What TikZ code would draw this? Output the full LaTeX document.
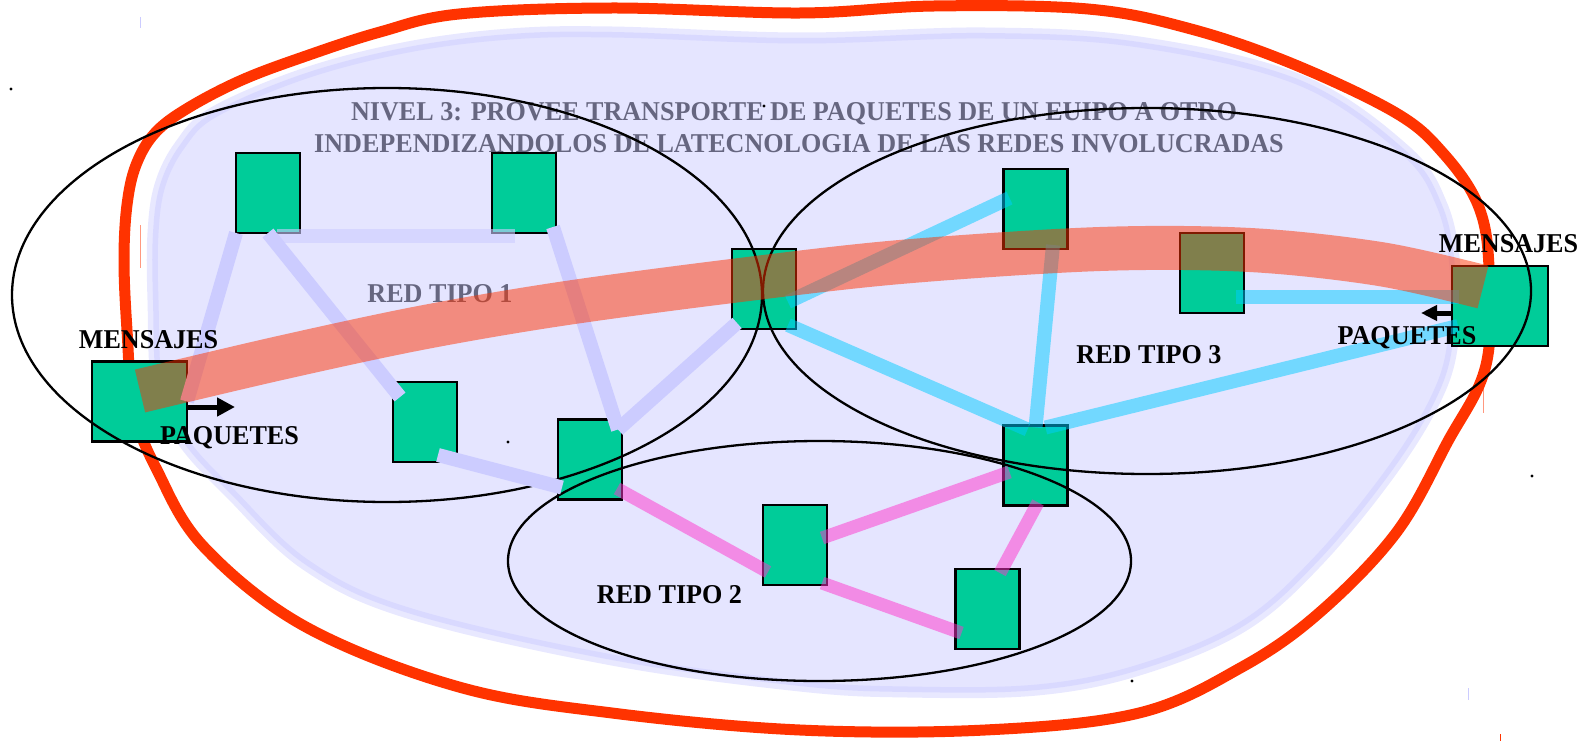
\documentclass[tikz,border=0pt]{standalone}
\usepackage{fontspec}
\setmainfont{Liberation Serif}
\usepackage{graphicx}
\usetikzlibrary{arrows.meta}
\definecolor{lav}{HTML}{CCCCFF}
\definecolor{redline}{HTML}{FF3300}
\definecolor{grn}{HTML}{00CC99}
\definecolor{cyn}{HTML}{00CCFF}
\definecolor{pnk}{HTML}{FF33CC}
\newcommand\sqz[1]{\scalebox{0.96}[1]{#1}}
\begin{document}
\begin{tikzpicture}[x=1bp,y=-1bp,
  box/.style={draw=black, line width=2.5bp, fill=grn, inner sep=0pt, outer sep=0pt, minimum width=64bp, minimum height=80bp},
  bigbox/.style={box, minimum width=95bp, minimum height=80bp},
  lbl/.style={font=\fontsize{27.2bp}{30bp}\selectfont\bfseries, inner sep=0pt, anchor=base},
  net/.style={draw=black, line width=2.3bp},
  lavlink/.style={draw=lav, line width=14bp},
  lavlinkb/.style={draw=lav, line width=14bp, draw opacity=0.6},
  cyanlink/.style={draw=cyn, line width=14bp, draw opacity=0.5},
  pinklink/.style={draw=pnk, line width=13bp, draw opacity=0.5},
  tipto/.style={line width=5bp, -{Triangle[length=18bp,width=18bp]}},
  dotm/.style={fill=black}
]
\fill[white] (0,0) rectangle (1585,741);
\useasboundingbox (0,0) rectangle (1585,741);

% texts under the translucent region
\node[lbl] (t1) at (794,120) {\sqz{NIVEL 3: PROVEE TRANSPORTE DE PAQUETES DE UN EUIPO A OTRO}};
\node[lbl] (t2) at (799,152) {\sqz{INDEPENDIZANDOLOS DE LATECNOLOGIA DE LAS REDES INVOLUCRADAS}};
\node[lbl] (r1) at (440,302) {\sqz{RED TIPO 1}};

% translucent region
\filldraw[fill=lav, fill opacity=0.5, draw=lav, draw opacity=0.45, line width=11bp]
  plot[smooth cycle, tension=0.6] coordinates {
  (153,300) (153,233) (160,185) (180,145) (214,112) (306,73) (408,47) (510,34) (612,32)
  (800,38) (985,33) (1139,42) (1300,80) (1405,150) (1442,205) (1455,267) (1454,333)
  (1440,390) (1396,465) (1319,560) (1242,627) (1139,670) (1037,690) (908,692) (800,686)
  (612,660) (408,613) (306,565) (230,493) (184,443) (158,393)};

% outer red curve
\draw[redline, line width=11bp]
  plot[smooth cycle, tension=0.6] coordinates {
  (127,330) (124,260) (127,205) (136,165) (155,133) (188,108) (242,80) (306,56) (380,32) (459,14)
  (612,8) (800,13) (934,6) (1088,9) (1191,29) (1293,64) (1396,113) (1443,153) (1478,205) (1489,267)
  (1486,365) (1447,443) (1396,533) (1319,613) (1242,667) (1139,713) (985,730) (800,730)
  (612,713) (459,687) (306,627) (204,547) (157,470) (134,410)};

% faint marks
\draw[lav, line width=1bp] (140,17) -- (140,28);
\draw[redline, line width=1bp, opacity=0.5] (140,225) -- (140,268);
\draw[redline, line width=1bp, opacity=0.5] (1483,380) -- (1483,413);
\draw[lav, line width=1bp] (1468,688) -- (1468,700);
\draw[redline, line width=1bp] (1500,734) -- (1500,741);

% boxes
\node[box] (B1) at (268,193) {};
\node[box] (B2) at (524,193) {};
\node[box] (B3) at (764,289) {};
\node[box] (B4) at (425,422) {};
\node[box] (B5) at (590,459.5) {};
\node[bigbox] (BL) at (139.5,401.5) {};
\node[box] (B6) at (1035.5,209) {};
\node[box] (B7) at (1212,273) {};
\node[bigbox, minimum width=96bp] (BR) at (1500,306) {};
\node[box] (B8) at (1035.5,465.5) {};
\node[box] (B9) at (795,545) {};
\node[box] (B10) at (987.5,609) {};

% networks
\draw[net] (387,295) ellipse [x radius=375, y radius=207];
\draw[net] (1147,291) ellipse [x radius=384, y radius=183];
\draw[net] (819.5,561) ellipse [x radius=311.5, y radius=120];

% links red tipo 1
\draw[lavlink] (B1.south west) -- (BL.east);
\draw[lavlink] (B1.south) -- ([shift={(7,15)}]B4.north west);
\draw[lavlinkb] ([shift={(9,3)}]B1.south) -- ([shift={(-9,3)}]B2.south);
\draw[lavlink] ([shift={(-3,-6)}]B2.south east) -- ([shift={(-4,10)}]B5.north east);
\draw[lavlink] ([shift={(5,-6)}]B3.south west) -- ([shift={(-4,10)}]B5.north east);
\draw[lavlink] ([shift={(-19,-7)}]B4.south east) -- ([shift={(4,-12)}]B5.south west);

% links red tipo 3
\draw[cyanlink] ([shift={(-8,13)}]B3.east) -- ([shift={(6,-11)}]B6.west);
\draw[cyanlink] ([shift={(-8,-4)}]B3.south east) -- ([shift={(-8,4)}]B8.north);
\draw[cyanlink] ([shift={(17.5,-4)}]B6.south) -- ([shift={(0,2)}]B8.north);
\draw[cyanlink] ([shift={(-8,24)}]B7.east) -- ([shift={(7,-9)}]BR.west);
\draw[cyanlink] ([shift={(10,2)}]B8.north) -- ([shift={(6,20)}]BR.west);

% links red tipo 2
\draw[pinklink] ([shift={(-5,-11)}]B5.south east) -- ([shift={(5,27)}]B9.west);
\draw[pinklink] ([shift={(-5,-7)}]B9.east) -- ([shift={(6,6.5)}]B8.west);
\draw[pinklink] ([shift={(-5,-2)}]B9.south east) -- ([shift={(6,24)}]B10.west);
\draw[pinklink] ([shift={(2.5,-3)}]B8.south) -- ([shift={(12.5,4)}]B10.north);

% message path
\draw[redline, line width=44bp, draw opacity=0.5]
  plot[smooth, tension=0.55] coordinates {
  (140,391) (280,358) (420,328) (560,304) (732,281) (900,262) (1100,249) (1250,250) (1380,264) (1483,287)};

% labels
\node[lbl] (m1) at (148.5,348) {\sqz{MENSAJES}};
\node[lbl] (p1) at (229.5,444) {\sqz{PAQUETES}};
\node[lbl] (m2) at (1508.5,252) {\sqz{MENSAJES}};
\node[lbl] (p2) at (1407,344) {\sqz{PAQUETES}};
\node[lbl] (r3) at (1149,363) {\sqz{RED TIPO 3}};
\node[lbl] (r2) at (669.5,603) {\sqz{RED TIPO 2}};

\draw[tipto] ([shift={(0,5.5)}]BL.east) -- ++(48,0);
\draw[line width=5bp, -{Triangle[length=16bp,width=15bp]}] ([shift={(0,7)}]BR.west) -- ++(-31,0);

% stray dots
\fill[dotm] (11,89) circle (1.6bp);
\fill[dotm] (764,106) circle (1.6bp);
\fill[dotm] (508,442) circle (1.6bp);
\fill[dotm] (1532,476) circle (1.6bp);
\fill[dotm] (1132,681) circle (1.6bp);
\end{tikzpicture}
\end{document}
